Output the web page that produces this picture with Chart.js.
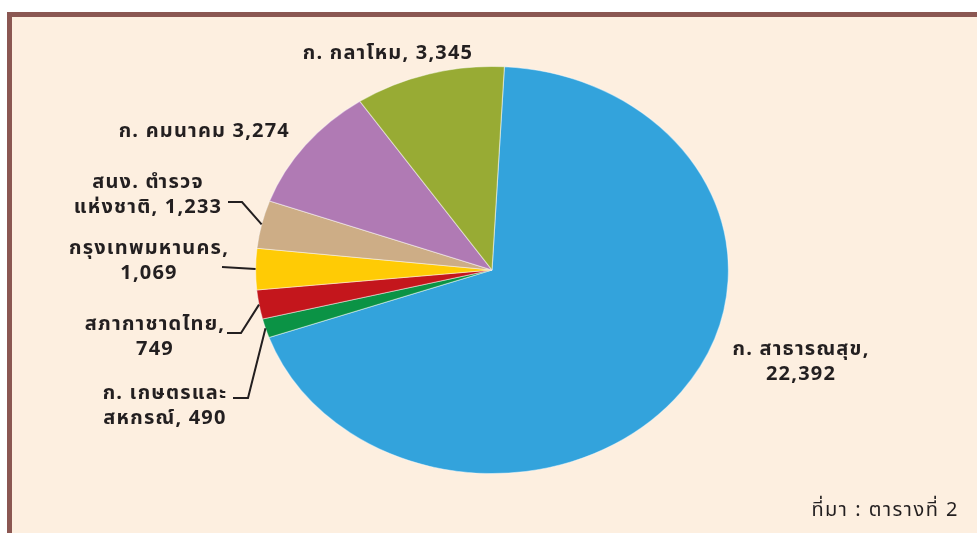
<!DOCTYPE html>
<html>
<head>
<meta charset="utf-8">
<script src="https://cdn.jsdelivr.net/npm/chart.js@4"></script>
<style>
  html, body { margin: 0; padding: 0; background: #fff; }
  #frame {
    position: absolute; left: 7px; top: 12px; width: 980px; height: 530px;
    border-top: 5px solid #8B5752; border-left: 5px solid #8B5752;
    background: #FDEFE0;
  }
  #wrap { position: absolute; left: 0; top: 0; width: 977px; height: 533px; }
</style>
</head>
<body>
<div id="frame"></div>
<div id="wrap"><canvas id="pie"></canvas></div>
<script>
// 데이터 (시계 방향, 위에서 시작)
const categories = ['ก. สาธารณสุข', 'ก. เกษตรและสหกรณ์', 'สภากาชาดไทย', 'กรุงเทพมหานคร', 'สนง. ตำรวจแห่งชาติ', 'ก. คมนาคม', 'ก. กลาโหม'];
const values = [22392, 490, 749, 1069, 1233, 3274, 3345];
const colors = ['#33A3DC', '#0B9345', '#C4161C', '#FFCB05', '#CDAD86', '#B07AB4', '#98AB34'];
// 라벨 줄 나누기
const nameLines = [['ก. สาธารณสุข,'], ['ก. เกษตรและ', 'สหกรณ์,'], ['สภากาชาดไทย,'], ['กรุงเทพมหานคร,'], ['สนง. ตำรวจ', 'แห่งชาติ,'], ['ก. คมนาคม'], ['ก. กลาโหม,']];
const valueOnNewLine = [true, false, true, true, false, false, false];
const sourceText = 'ที่มา : ตารางที่ 2';

// 라벨 위치 (x, 첫 줄 baseline, 정렬, 지시선 [시작x, y, 꺾임x])
const labelLayout = [
    { x: 801, y: 355, align: 'center', leader: null },
    { x: 165, y: 399, align: 'center', leader: [233, 398, 248] },
    { x: 155, y: 330, align: 'center', leader: [227, 333, 241] },
    { x: 149, y: 254, align: 'center', leader: [222, 267, 222] },
    { x: 148, y: 188, align: 'center', leader: [228, 202, 242] },
    { x: 290, y: 137, align: 'right', leader: null },
    { x: 388, y: 59, align: 'center', leader: null }
];
const SX = 237 / 204; // 타원 비율
const FONT = '"Noto Sans Thai", "Noto Sans", sans-serif';
const INK = '#231F20';

function fmt(v) { return v.toLocaleString('en-US'); }

const ellipsePlugin = {
    id: 'ellipse',
    beforeDatasetsDraw(chart) {
        const a = chart.getDatasetMeta(0).data[0];
        const ctx = chart.ctx;
        ctx.save();
        ctx.translate(a.x, 0);
        ctx.scale(SX, 1);
        ctx.translate(-a.x, 0);
    },
    afterDatasetsDraw(chart) {
        chart.ctx.restore();
    }
};

const labelPlugin = {
    id: 'sliceLabels',
    afterDraw(chart) {
        const ctx = chart.ctx;
        const arcs = chart.getDatasetMeta(0).data;
        ctx.save();
        ctx.fillStyle = INK;
        ctx.strokeStyle = INK;
        ctx.lineWidth = 2;
        ctx.font = 'bold 20px ' + FONT;
        ctx.letterSpacing = '1.2px';
        ctx.textBaseline = 'alphabetic';
        values.forEach(function (v, i) {
            const lay = labelLayout[i];
            const lines = nameLines[i].slice();
            if (valueOnNewLine[i]) lines.push(fmt(v));
            else lines[lines.length - 1] += ' ' + fmt(v);
            ctx.textAlign = lay.align;
            lines.forEach(function (t, k) {
                ctx.fillText(t, lay.x, lay.y + k * 25);
            });
            if (lay.leader) {
                const a = arcs[i];
                const mid = (a.startAngle + a.endAngle) / 2;
                const ex = a.x + Math.cos(mid) * a.outerRadius * SX;
                const ey = a.y + Math.sin(mid) * a.outerRadius;
                ctx.beginPath();
                ctx.moveTo(lay.leader[0], lay.leader[1]);
                ctx.lineTo(lay.leader[2], lay.leader[1]);
                ctx.lineTo(ex, ey);
                ctx.stroke();
            }
        });
        // 출처
        ctx.font = '20px ' + FONT;
        ctx.letterSpacing = '1.5px';
        ctx.textAlign = 'right';
        ctx.fillText(sourceText, 959, 516);
        ctx.restore();
    }
};

const ctx = document.getElementById('pie').getContext('2d');
const pie = new Chart(ctx, {
    type: 'pie',
    data: {
        labels: categories,
        datasets: [{
            data: values,
            backgroundColor: colors,
            borderColor: 'rgba(255, 255, 255, 0.45)',
            borderWidth: 1,
            clip: false
        }]
    },
    options: {
        responsive: true,
        maintainAspectRatio: false,
        animation: false,
        rotation: 3,
        layout: { padding: { left: 288, right: 281, top: 66, bottom: 59 } },
        plugins: {
            legend: { display: false },
            tooltip: { enabled: false }
        }
    },
    plugins: [ellipsePlugin, labelPlugin]
});
</script>
</body>
</html>
